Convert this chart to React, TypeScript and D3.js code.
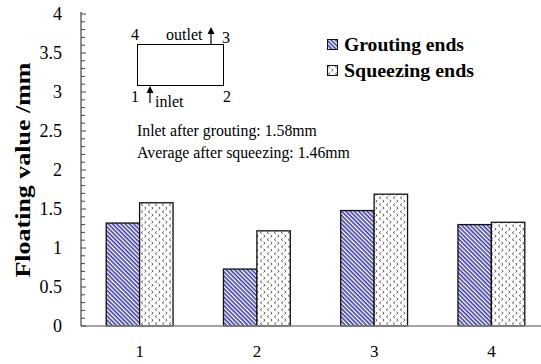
import React from "react";
import * as d3 from "d3";

const categories = ["1", "2", "3", "4"];
const groutingEnds = [1.32, 0.73, 1.48, 1.3];
const squeezingEnds = [1.58, 1.22, 1.69, 1.33];
const yTicks = [0, 0.5, 1, 1.5, 2, 2.5, 3, 3.5, 4];
const seriesNames = ["Grouting ends", "Squeezing ends"];
const notes = ["Inlet after grouting: 1.58mm", "Average after squeezing: 1.46mm"];

const W = 541;
const H = 364;
const SERIF = "'Liberation Serif', 'Times New Roman', serif";

export default function App() {
  const left = 81;
  const right = 550;
  const top = 14;
  const bottom = 326;

  const x = d3.scaleBand<string>().domain(categories).range([left, right]).paddingInner(0.43).paddingOuter(0.215);
  const inner = d3.scaleBand<number>().domain([0, 1]).range([0, x.bandwidth()]);
  const y = d3.scaleLinear().domain([0, 4]).range([bottom, top]);
  const minor = d3.range(0, 4.0001, 0.1);

  const series = [groutingEnds, squeezingEnds];
  const fills = ["url(#hatch)", "url(#dots)"];
  const legendLengths = [120, 130];

  return (
    <svg width={W} height={H} style={{ position: "absolute", left: 0, top: 0, background: "#fff" }}>
      <defs>
        <pattern id="hatch" patternUnits="userSpaceOnUse" width="3" height="3" patternTransform="rotate(45)">
          <rect width="3" height="3" fill="#fff" />
          <rect x="0" y="0" width="3" height="1.6" fill="#3b3ba3" />
        </pattern>
        <pattern id="dots" patternUnits="userSpaceOnUse" width="7" height="7">
          <rect width="7" height="7" fill="#fff" />
          <path d="M2.8,0.5 L1.3,1.7 L2.8,2.9" stroke="#555" strokeWidth="1" fill="none" />
          <path d="M4.6,4 L6.1,5.2 L4.6,6.4" stroke="#555" strokeWidth="1" fill="none" />
        </pattern>
      </defs>

      {/* bars */}
      {categories.map((c, i) =>
        series.map((vals, s) => (
          <rect
            key={c + s}
            x={(x(c) as number) + (inner(s) as number)}
            y={y(vals[i])}
            width={inner.bandwidth()}
            height={bottom - y(vals[i])}
            fill={fills[s]}
            stroke="#111"
            strokeWidth={1.3}
          />
        ))
      )}

      {/* x axis */}
      <line x1={left} x2={W} y1={bottom} y2={bottom} stroke="#888" strokeWidth={1.3} />
      {categories.map((c) => (
        <text key={c} x={(x(c) as number) + x.bandwidth() / 2} y={357} textAnchor="middle" fontFamily={SERIF} fontSize={17}>
          {c}
        </text>
      ))}

      {/* y axis */}
      <line x1={left} x2={left} y1={top - 2} y2={bottom} stroke="#444" strokeWidth={1.2} />
      {minor.map((v, i) => (
        <line key={i} x1={left} x2={left + (i % 5 === 0 ? 5 : 4)} y1={y(v)} y2={y(v)} stroke="#444" strokeWidth={1} />
      ))}
      {yTicks.map((t) => (
        <text key={t} x={62} y={y(t) + 6} textAnchor="end" fontFamily={SERIF} fontSize={18}>
          {t}
        </text>
      ))}
      <text
        transform={`translate(30,170) rotate(-90)`}
        textAnchor="middle"
        fontFamily={SERIF}
        fontWeight="bold"
        fontSize={22}
        textLength={215}
        lengthAdjust="spacingAndGlyphs"
      >
        Floating value /mm
      </text>

      {/* inset diagram */}
      <rect x={137.5} y={44.5} width={86} height={41} fill="none" stroke="#000" strokeWidth={1} />
      <text x={131} y={40} fontFamily={SERIF} fontSize={16}>4</text>
      <text x={166} y={40} fontFamily={SERIF} fontSize={16}>outlet</text>
      <line x1={211} x2={211} y1={44} y2={32} stroke="#000" strokeWidth={1.2} />
      <path d="M207.5,34 L211,27 L214.5,34 Z" fill="#000" />
      <text x={222} y={43} fontFamily={SERIF} fontSize={16}>3</text>
      <text x={131} y={102} fontFamily={SERIF} fontSize={16}>1</text>
      <line x1={150} x2={150} y1={103} y2={91} stroke="#000" strokeWidth={1.2} />
      <path d="M146.5,93 L150,86 L153.5,93 Z" fill="#000" />
      <text x={155} y={107} fontFamily={SERIF} fontSize={16}>inlet</text>
      <text x={223} y={102} fontFamily={SERIF} fontSize={16}>2</text>

      {notes.map((n, i) => (
        <text key={n} x={137} y={136 + i * 22} fontFamily={SERIF} fontSize={15.8}>
          {n}
        </text>
      ))}

      {/* legend */}
      {seriesNames.map((n, i) => (
        <g key={n} transform={`translate(327,${39 + i * 26})`}>
          <rect x={0.5} y={0.5} width={10} height={10} fill={fills[i]} stroke="#111" strokeWidth={1} />
          <text
            x={17}
            y={11.5}
            fontFamily={SERIF}
            fontWeight="bold"
            fontSize={19}
            textLength={legendLengths[i]}
            lengthAdjust="spacingAndGlyphs"
          >
            {n}
          </text>
        </g>
      ))}
    </svg>
  );
}
